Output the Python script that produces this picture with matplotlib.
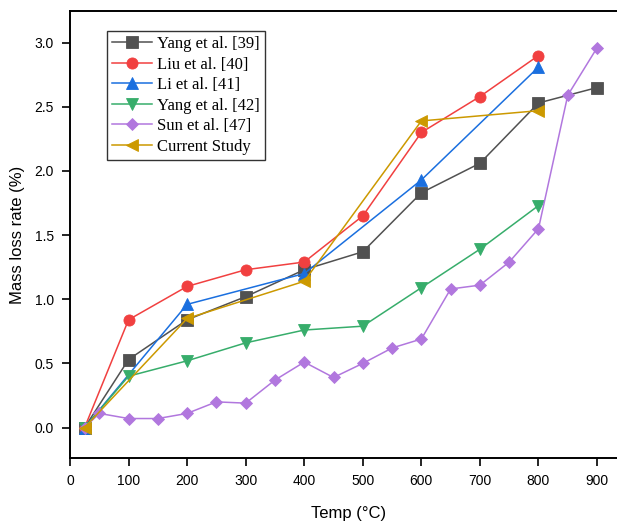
import matplotlib
matplotlib.use("Agg")
import matplotlib.pyplot as plt

# ---- data ----
yang39_x = [25, 100, 200, 300, 400, 500, 600, 700, 800, 900]
yang39_y = [0.0, 0.53, 0.84, 1.02, 1.23, 1.37, 1.83, 2.06, 2.53, 2.65]

liu40_x = [25, 100, 200, 300, 400, 500, 600, 700, 800]
liu40_y = [0.0, 0.84, 1.10, 1.23, 1.29, 1.65, 2.30, 2.58, 2.90]

li41_x = [25, 200, 400, 600, 800]
li41_y = [0.0, 0.96, 1.20, 1.93, 2.81]

yang42_x = [25, 100, 200, 300, 400, 500, 600, 700, 800]
yang42_y = [0.0, 0.40, 0.52, 0.66, 0.76, 0.79, 1.09, 1.39, 1.73]

sun47_x = [25, 50, 100, 150, 200, 250, 300, 350, 400, 450, 500, 550, 600, 650, 700, 750, 800, 850, 900]
sun47_y = [0.0, 0.11, 0.07, 0.07, 0.11, 0.20, 0.19, 0.37, 0.51, 0.39, 0.50, 0.62, 0.69, 1.08, 1.11, 1.29, 1.55, 2.59, 2.96]

current_x = [25, 200, 400, 600, 800]
current_y = [0.0, 0.85, 1.14, 2.39, 2.47]

labels = ["Yang et al. [39]", "Liu et al. [40]", "Li et al. [41]",
          "Yang et al. [42]", "Sun et al. [47]", "Current Study"]
xticks = [0, 100, 200, 300, 400, 500, 600, 700, 800, 900]
yticks = [0.0, 0.5, 1.0, 1.5, 2.0, 2.5, 3.0]

# ---- style ----
colors = ["#515151", "#F14040", "#1A6FDF", "#37AD6B", "#B177DE", "#CC9900"]
markers = ["s", "o", "^", "v", "D", "<"]
msizes = [8, 8, 9, 9, 6, 9]

W, H = 617, 526
fig = plt.figure(figsize=(W / 100, H / 100), dpi=100)
ax_left, ax_right = 70, 70 + 950 * 0.5856
ax_top, ax_bot = 11, 458.3
ax = fig.add_axes([ax_left / W, (H - ax_bot) / H, (ax_right - ax_left) / W, (ax_bot - ax_top) / H])

series = [(yang39_x, yang39_y), (liu40_x, liu40_y), (li41_x, li41_y),
          (yang42_x, yang42_y), (sun47_x, sun47_y), (current_x, current_y)]
for (xs, ys), lab, c, m, ms in zip(series, labels, colors, markers, msizes):
    ax.plot(xs, ys, color=c, marker=m, markersize=ms, linewidth=1.1,
            markeredgecolor=c, markeredgewidth=0.6, label=lab)

ax.set_xlim(0, 950)
ax.set_ylim(-0.24, 3.247)
ax.set_xticks(xticks)
ax.set_xticklabels([str(v) for v in xticks])
ax.set_yticks(yticks)
ax.set_yticklabels([f"{v:.1f}" for v in yticks])

tickfont = "Liberation Sans"
for lbl in ax.get_xticklabels() + ax.get_yticklabels():
    lbl.set_fontfamily(tickfont)
    lbl.set_fontsize(10)

ax.tick_params(direction="out", length=5.5, width=1.2, pad=6, colors="black")
for s in ax.spines.values():
    s.set_linewidth(1.4)

ax.set_xlabel("Temp (\u00b0C)", fontfamily=tickfont, fontsize=12, labelpad=13)
ax.set_ylabel("Mass loss rate (%)", fontfamily=tickfont, fontsize=12, labelpad=7)

leg = ax.legend(loc="upper left", bbox_to_anchor=(0.0665, 0.955), borderaxespad=0,
                prop={"family": "Liberation Serif", "size": 12},
                handlelength=2.4, handletextpad=0.3, labelspacing=0.27,
                borderpad=0.3, fancybox=False, framealpha=1.0, edgecolor="#333333")
leg.get_frame().set_linewidth(1.0)

fig.savefig("out.png", dpi=100)
